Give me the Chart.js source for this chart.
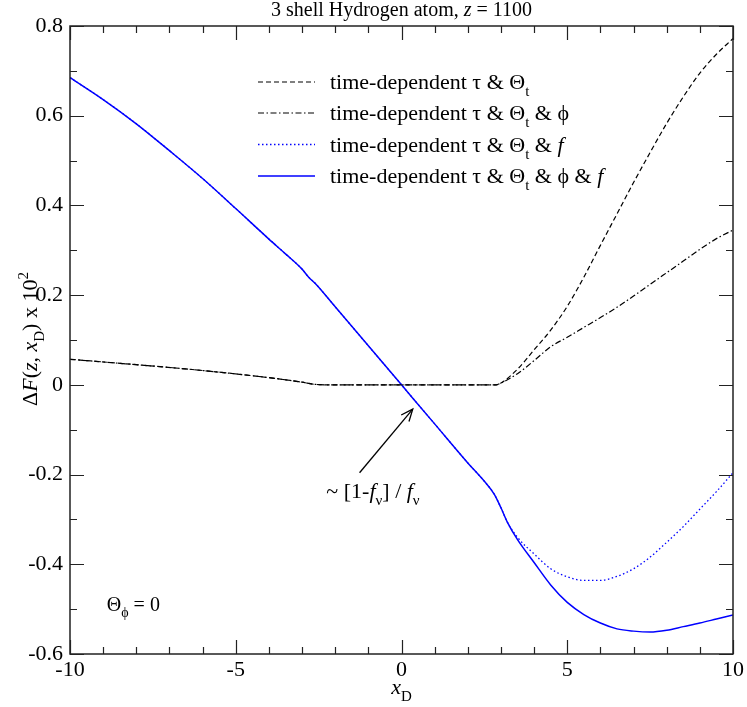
<!DOCTYPE html>
<html>
<head>
<meta charset="utf-8">
<script src="https://cdn.jsdelivr.net/npm/chart.js@4/dist/chart.umd.min.js"></script>
<style>
html,body{margin:0;padding:0;background:#fff;}
canvas{display:block;}
</style>
</head>
<body>
<canvas id="c" width="747" height="707"></canvas>
<script>
// ---- data ----
const solidX = [-10,-9,-8,-7,-6,-5,-4,-3.5,-3,-2.8,-2.6,-2,-1,0,1,2,2.5,2.8,3.0,3.2,3.5,4,4.5,5,5.5,6,6.5,7,7.5,8,8.5,9,9.5,10];
const solidY = [0.685,0.636,0.582,0.522,0.46,0.393,0.325,0.292,0.258,0.24,0.226,0.174,0.087,0,-0.087,-0.174,-0.215,-0.244,-0.274,-0.307,-0.345,-0.396,-0.446,-0.485,-0.512,-0.531,-0.544,-0.549,-0.551,-0.547,-0.539,-0.531,-0.522,-0.513];
const dottedX = [-10,-9,-8,-7,-6,-5,-4,-3.5,-3,-2.8,-2.6,-2,-1,0,1,2,2.5,2.8,3.0,3.2,3.5,4,4.5,5,5.5,6,6.5,7,7.5,8,8.5,9,9.5,10];
const dottedY = [0.685,0.636,0.582,0.522,0.46,0.393,0.325,0.292,0.258,0.24,0.226,0.174,0.087,0,-0.087,-0.174,-0.215,-0.244,-0.274,-0.307,-0.34,-0.377,-0.41,-0.428,-0.436,-0.436,-0.427,-0.41,-0.384,-0.351,-0.316,-0.277,-0.238,-0.196];
const dashX = [-10,-8,-6,-4,-3,-2.6,-2,0,2,2.85,3,3.5,4,4.5,5,5.5,6,6.5,7,7.5,8,8.5,9,9.5,10];
const dashY = [0.057,0.045,0.032,0.016,0.006,0.001,0,0,0,0,0.004,0.035,0.078,0.122,0.175,0.24,0.311,0.381,0.451,0.518,0.583,0.642,0.695,0.737,0.772];
const dashDotX = [-10,-8,-6,-4,-3,-2.6,-2,0,2,2.85,3,3.5,4,4.5,5,5.5,6,6.5,7,7.5,8,8.5,9,9.5,10];
const dashDotY = [0.057,0.045,0.032,0.016,0.006,0.001,0,0,0,0,0.004,0.025,0.054,0.085,0.106,0.128,0.15,0.173,0.198,0.224,0.25,0.276,0.302,0.326,0.345];
const seriesNames = ['time-dependent \u03c4 & \u0398t', 'time-dependent \u03c4 & \u0398t & \u03d5', 'time-dependent \u03c4 & \u0398t & f', 'time-dependent \u03c4 & \u0398t & \u03d5 & f'];
const xTickLabels = ['-10','-5','0','5','10'];
const yTickLabels = ['-0.6','-0.4','-0.2','0','0.2','0.4','0.6','0.8'];

const SERIF = '"Liberation Serif", "Times New Roman", serif';
const BLUE = '#0000ff';
function pts(xs, ys){ return xs.map((x,i)=>({x:x,y:ys[i]})); }

function fontFor(st, size){
  const small = Math.round(size*0.7);
  if(st==='i') return 'italic '+size+'px '+SERIF;
  if(st==='sub'||st==='sup') return small+'px '+SERIF;
  if(st==='isub') return 'italic '+small+'px '+SERIF;
  return size+'px '+SERIF;
}
function richWidth(ctx, parts, size){
  let w=0;
  for(const p of parts){ ctx.font = fontFor(p[1], size); w += ctx.measureText(p[0]).width; }
  return w;
}
function drawRich(ctx, parts, x, y, size, align){
  let w = richWidth(ctx, parts, size);
  let cx = align==='center' ? x - w/2 : (align==='right' ? x - w : x);
  ctx.textBaseline='alphabetic'; ctx.textAlign='left';
  for(const p of parts){
    ctx.font = fontFor(p[1], size);
    let dy = 0;
    if(p[1]==='sub'||p[1]==='isub') dy = size*0.32;
    if(p[1]==='sup') dy = -size*0.4;
    ctx.fillText(p[0], cx, y+dy);
    cx += ctx.measureText(p[0]).width;
  }
}

const legendParts = [
  [['time-dependent \u03c4 & \u0398','n'],['t','sub']],
  [['time-dependent \u03c4 & \u0398','n'],['t','sub'],[' & \u03d5','n']],
  [['time-dependent \u03c4 & \u0398','n'],['t','sub'],[' & ','n'],['f','i']],
  [['time-dependent \u03c4 & \u0398','n'],['t','sub'],[' & \u03d5 & ','n'],['f','i']]
];

const decor = {
  id:'decor',
  afterDraw(chart){
    const ctx = chart.ctx;
    const a = chart.chartArea;
    const xs = chart.scales.x, ys = chart.scales.y;
    ctx.save();
    ctx.strokeStyle='#222'; ctx.lineWidth=1.5;
    ctx.strokeRect(a.left, a.top, a.right-a.left, a.bottom-a.top);
    ctx.lineWidth=1.2;
    ctx.beginPath();
    for(let v=-10; v<=10; v++){
      const px = Math.round(xs.getPixelForValue(v))+0.5;
      const L = (v%5===0)?14:7;
      ctx.moveTo(px, a.bottom); ctx.lineTo(px, a.bottom-L);
      ctx.moveTo(px, a.top); ctx.lineTo(px, a.top+L);
    }
    for(let k=-6; k<=8; k++){
      const py = Math.round(ys.getPixelForValue(k/10))+0.5;
      const L = (k%2===0)?14:7;
      ctx.moveTo(a.left, py); ctx.lineTo(a.left+L, py);
      ctx.moveTo(a.right, py); ctx.lineTo(a.right-L, py);
    }
    ctx.stroke();

    ctx.fillStyle='#000';
    drawRich(ctx, [['3 shell Hydrogen atom, ','n'],['z','i'],[' = 1100','n']], (a.left+a.right)/2, 16, 20, 'center');
    drawRich(ctx, [['x','i'],['D','sub']], (a.left+a.right)/2, 694, 22, 'center');
    ctx.save();
    ctx.translate(37, 339);
    ctx.rotate(-Math.PI/2);
    drawRich(ctx, [['\u0394','n'],['F','i'],['(','n'],['z','i'],[', ','n'],['x','i'],['D','sub'],[') x 10','n'],['2','sup']], 0, 0, 22, 'center');
    ctx.restore();

    const styles = [
      {c:'#000', d:[5,3], w:1.2},
      {c:'#000', d:[6,2.5,1.5,2.5], w:1.2},
      {c:BLUE, d:[1.5,2.5], w:1.3},
      {c:BLUE, d:[], w:1.5}
    ];
    const rows = [82, 113, 144.5, 176];
    for(let i=0;i<4;i++){
      ctx.strokeStyle=styles[i].c; ctx.lineWidth=styles[i].w; ctx.setLineDash(styles[i].d);
      ctx.beginPath(); ctx.moveTo(258, rows[i]); ctx.lineTo(315, rows[i]); ctx.stroke();
      ctx.setLineDash([]);
      ctx.fillStyle='#000';
      drawRich(ctx, legendParts[i], 330, rows[i]+7, 22, 'left');
    }

    const tx = xs.getPixelForValue(-1.265), ty = ys.getPixelForValue(-0.196);
    const hx = xs.getPixelForValue(0.34), hy = ys.getPixelForValue(-0.054);
    ctx.strokeStyle='#000'; ctx.lineWidth=1.3;
    ctx.beginPath(); ctx.moveTo(tx,ty); ctx.lineTo(hx,hy); ctx.stroke();
    const ang = Math.atan2(hy-ty, hx-tx);
    const hl = 13, hw = 0.4;
    ctx.beginPath();
    ctx.moveTo(hx - hl*Math.cos(ang-hw), hy - hl*Math.sin(ang-hw));
    ctx.lineTo(hx, hy);
    ctx.lineTo(hx - hl*Math.cos(ang+hw), hy - hl*Math.sin(ang+hw));
    ctx.stroke();
    drawRich(ctx, [['~ [1-','n'],['f','i'],['\u03bd','sub'],['] / ','n'],['f','i'],['\u03bd','sub']], xs.getPixelForValue(-0.86), ys.getPixelForValue(-0.253), 22, 'center');
    drawRich(ctx, [['\u0398','n'],['\u03d5','sub'],[' = 0','n']], xs.getPixelForValue(-8.89), ys.getPixelForValue(-0.504), 20, 'left');
    ctx.restore();
  }
};

new Chart(document.getElementById('c'), {
  type:'line',
  data:{
    datasets:[
      {label:seriesNames[0], data:pts(dashX,dashY), borderColor:'#000', borderWidth:1.2, borderDash:[5,3], pointRadius:0, cubicInterpolationMode:'monotone', fill:false},
      {label:seriesNames[1], data:pts(dashDotX,dashDotY), borderColor:'#000', borderWidth:1.2, borderDash:[6,2.5,1.5,2.5], pointRadius:0, cubicInterpolationMode:'monotone', fill:false},
      {label:seriesNames[2], data:pts(dottedX,dottedY), borderColor:BLUE, borderWidth:1.3, borderDash:[1.5,2.5], pointRadius:0, cubicInterpolationMode:'monotone', fill:false},
      {label:seriesNames[3], data:pts(solidX,solidY), borderColor:BLUE, borderWidth:1.5, pointRadius:0, cubicInterpolationMode:'monotone', fill:false}
    ]
  },
  options:{
    responsive:false, animation:false, devicePixelRatio:1,
    layout:{padding:{left:0, right:13, top:26, bottom:0}},
    plugins:{legend:{display:false}, title:{display:false}, tooltip:{enabled:false}},
    scales:{
      x:{type:'linear', min:-10, max:10,
        afterFit:(s)=>{ s.height = 53; },
        grid:{display:false, drawTicks:false}, border:{display:false},
        ticks:{stepSize:5, padding:3, color:'#000', maxRotation:0, font:{family:SERIF, size:22},
          callback:(v)=>{ const i = xTickLabels.indexOf(String(v)); return i>=0 ? xTickLabels[i] : ''; }}
      },
      y:{type:'linear', min:-0.6, max:0.8,
        afterFit:(s)=>{ s.width = 70; },
        grid:{display:false, drawTicks:false}, border:{display:false},
        ticks:{stepSize:0.2, padding:7, color:'#000', font:{family:SERIF, size:22},
          callback:(v)=>{ const r = String(Math.round(v*10)/10); const i = yTickLabels.indexOf(r); return i>=0 ? yTickLabels[i] : ''; }}
      }
    }
  },
  plugins:[decor]
});
</script>
</body>
</html>
